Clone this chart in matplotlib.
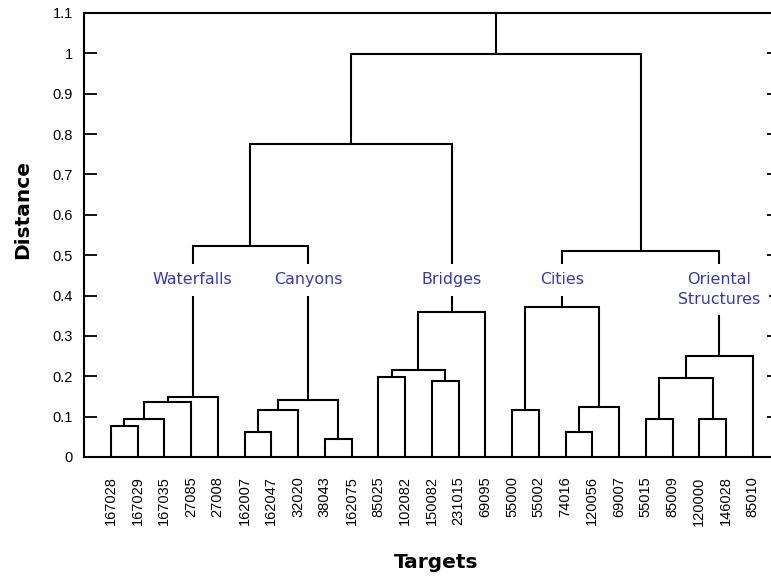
import matplotlib
matplotlib.use("Agg")
import matplotlib.pyplot as plt

# ---- data ----
leaf_labels = ["167028", "167029", "167035", "27085", "27008",
               "162007", "162047", "32020", "38043", "162075",
               "85025", "102082", "150082", "231015", "69095",
               "55000", "55002", "74016", "120056", "69007",
               "55015", "85009", "120000", "146028", "85010"]

# merges: ids 0..24 are leaves, merge k creates cluster id 25+k
merge_left = [0, 25, 26, 27, 5, 29, 8, 30, 28, 10, 12, 34, 36, 15, 17, 39, 38,
              20, 22, 42, 44, 41, 33, 47]
merge_right = [1, 2, 3, 4, 6, 7, 9, 31, 32, 11, 13, 35, 14, 16, 18, 19, 40,
               21, 23, 43, 24, 45, 37, 46]
merge_height = [0.078, 0.095, 0.136, 0.149, 0.062, 0.116, 0.044, 0.141, 0.523,
                0.199, 0.1875, 0.216, 0.358, 0.116, 0.061, 0.124, 0.372,
                0.095, 0.095, 0.195, 0.250, 0.510, 0.775, 0.999]

cluster_names = ["Waterfalls", "Canyons", "Bridges", "Cities", "Oriental\nStructures"]
cluster_nodes = [28, 32, 37, 41, 45]

y_ticks = [0, 0.1, 0.2, 0.3, 0.4, 0.5, 0.6, 0.7, 0.8, 0.9, 1.0, 1.1]
y_tick_labels = ["0", "0.1", "0.2", "0.3", "0.4", "0.5", "0.6", "0.7", "0.8", "0.9", "1", "1.1"]

# ---- figure ----
fig = plt.figure(figsize=(7.71, 5.77), dpi=100)
ax = fig.add_axes([84 / 771, 120 / 577, 695.5 / 771, 444 / 577])

n = len(leaf_labels)
xpos = {i: float(i) for i in range(n)}
ypos = {i: 0.0 for i in range(n)}
lw = 1.5
for k, (a, b, h) in enumerate(zip(merge_left, merge_right, merge_height)):
    xa, xb = xpos[a], xpos[b]
    ya, yb = ypos[a], ypos[b]
    ax.plot([xa, xa, xb, xb], [ya, h, h, yb], color="black", lw=lw,
            solid_joinstyle="miter", solid_capstyle="projecting", zorder=2)
    cid = n + k
    xpos[cid] = (xa + xb) / 2
    ypos[cid] = h

ax.set_xlim(-1, n)
ax.set_ylim(0, 1.1)
root = n + len(merge_height) - 1
ax.plot([xpos[root], xpos[root]], [ypos[root], 1.1], color="black", lw=lw, zorder=2)

for name, node in zip(cluster_names, cluster_nodes):
    ax.text(xpos[node], 0.458, name, ha="center", va="top", color="#3434c8",
            fontsize=11.4, family="DejaVu Sans", linespacing=1.4,
            bbox=dict(facecolor="white", edgecolor="none", pad=6), zorder=4)

ax.set_xticks(range(n))
ax.set_xticklabels(leaf_labels, rotation=90, family="Liberation Sans", fontsize=10.5)
ax.tick_params(axis="x", length=0, pad=14)
ax.set_yticks(y_ticks)
ax.set_yticklabels(y_tick_labels, family="Liberation Sans", fontsize=10.5)
ax.tick_params(axis="y", direction="in", length=9.5, width=1.3, pad=8,
               right=True, left=True)

for s in ax.spines.values():
    s.set_linewidth(1.5)

fig.text(22.5 / 771, 1 - 209 / 577, "Distance", rotation=90, ha="center", va="center",
         fontsize=14.5, fontweight="bold", family="DejaVu Sans")
fig.text(436 / 771, 1 - 562 / 577, "Targets", ha="center", va="center",
         fontsize=14.5, fontweight="bold", family="DejaVu Sans")

fig.savefig("out.png", dpi=100)
